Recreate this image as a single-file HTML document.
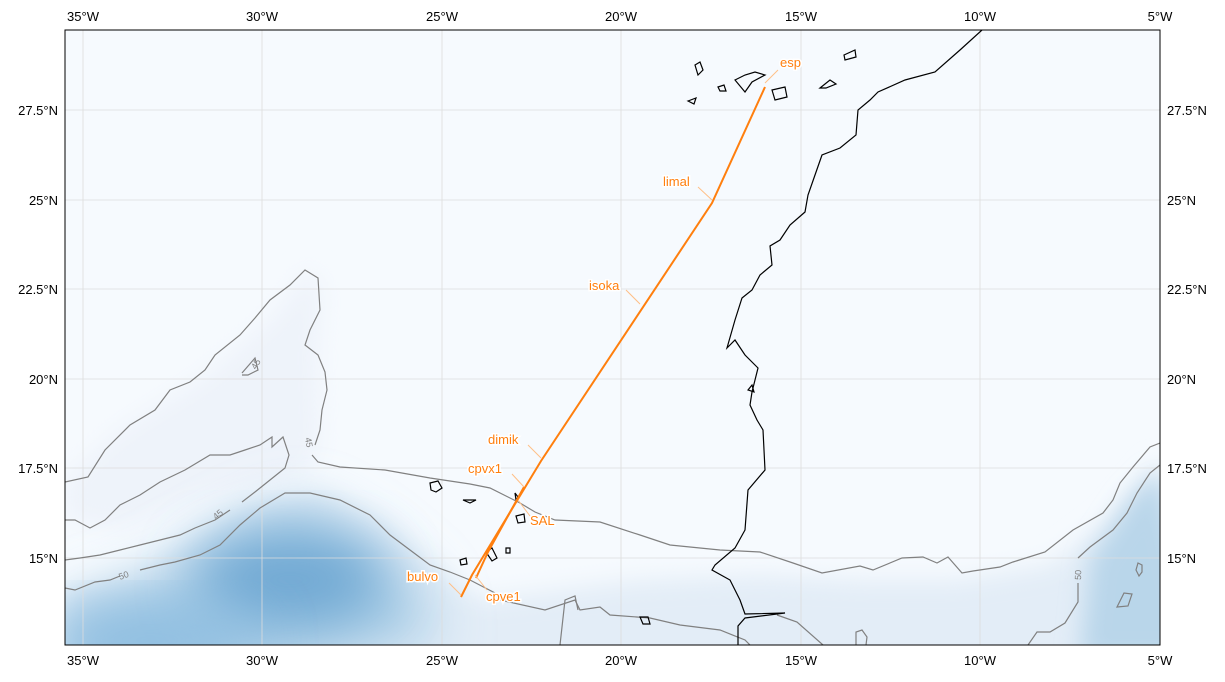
<!DOCTYPE html>
<html><head><style>
body{margin:0;background:#fff;}
svg text{font-family:"Liberation Sans",sans-serif;}
</style></head><body>
<svg width="1225" height="677" xmlns="http://www.w3.org/2000/svg">
<defs>
<clipPath id="c"><rect x="65" y="30" width="1095" height="615"/></clipPath>
<filter id="b" x="-50%" y="-50%" width="200%" height="200%"><feGaussianBlur stdDeviation="28"/></filter>
<filter id="b2" x="-50%" y="-50%" width="200%" height="200%"><feGaussianBlur stdDeviation="12"/></filter>
</defs>
<rect x="65" y="30" width="1095" height="615" fill="#f6fafe"/>
<g clip-path="url(#c)">
<path d="M65,480 L120,430 200,380 270,320 310,268 322,290 318,350 320,445 310,470 290,480 200,500 120,530 65,520Z" fill="#eef3fa" filter="url(#b2)"/>
<path d="M65,590 L150,570 240,510 320,492 380,520 440,570 480,600 560,590 640,580 760,575 860,580 960,580 1050,565 1110,520 1160,460 1200,700 65,700Z" fill="#e3edf7" filter="url(#b2)"/>
<path d="M65,610 L150,580 240,530 300,505 360,540 420,590 440,640 65,700Z" fill="#a9cde6" filter="url(#b)"/>
<ellipse cx="290" cy="580" rx="95" ry="45" fill="#6fa8d3" filter="url(#b)"/>
<ellipse cx="150" cy="640" rx="110" ry="30" fill="#8bbce0" filter="url(#b)"/>
<path d="M1080,660 L1090,560 1130,500 1160,470 1200,660Z" fill="#b9d6ea" filter="url(#b2)"/>
<g stroke="#dcdcdc" stroke-width="0.8">
<line x1="83" y1="30" x2="83" y2="645"/><line x1="262" y1="30" x2="262" y2="645"/><line x1="442" y1="30" x2="442" y2="645"/><line x1="621" y1="30" x2="621" y2="645"/><line x1="801" y1="30" x2="801" y2="645"/><line x1="980" y1="30" x2="980" y2="645"/>
<line x1="65" y1="110" x2="1160" y2="110"/><line x1="65" y1="200" x2="1160" y2="200"/><line x1="65" y1="289" x2="1160" y2="289"/><line x1="65" y1="379" x2="1160" y2="379"/><line x1="65" y1="468" x2="1160" y2="468"/><line x1="65" y1="558" x2="1160" y2="558"/>
</g>
<g fill="none" stroke="#808080" stroke-width="1.2">
<path d="M65,482 L88,477 105,450 130,425 155,410 170,390 190,382 205,370 215,355 240,335 255,318 270,300 290,285 305,270 318,278 320,310 310,330 305,345 318,355 325,372 327,390 322,410 320,430 315,445"/>
<path d="M312,455 L318,462 340,467 385,470 430,478 470,484 490,488 510,498 520,503 535,512 555,520 600,522 640,535 670,545 720,550 760,552 793,563 822,573 860,566 873,570 902,558 923,557 937,563 948,557 962,573 973,571 1000,567 1013,562 1045,552 1073,530 1103,513 1113,500 1120,483 1133,467 1150,447 1160,443"/>
<path d="M1078,558 L1090,547 1113,530 1127,513 1137,493 1150,473 1160,465"/>
<path d="M1078,583 L1078,602 1065,623 1050,632 1037,632 1028,645"/>
<path d="M65,520 L75,520 90,528 105,520 120,505 140,495 160,482 185,470 210,455 230,455 245,450 260,445 272,437 272,447 283,437 289,455 285,468 270,480 255,492 242,502"/>
<path d="M230,510 L215,520 195,528 180,535 160,540 140,545 120,550 100,555 80,558 65,560"/>
<path d="M65,588 L75,590 95,582 110,580 120,576"/>
<path d="M140,570 L160,565 175,562 200,555 220,545 240,525 260,508 285,493 310,493 340,500 370,515 390,535 410,550 430,565 450,572 470,580 495,593 500,600 545,610 575,600 580,610 600,607 610,615 650,618 680,625 720,630 745,640 750,645"/>
<path d="M777,615 L797,622 823,645"/>
<path d="M1117,607 L1124,593 1132,594 1128,606Z"/>
<path d="M1138,563 L1142,565 1142,572 1139,576 1136,570Z"/>
<path d="M242,373 L255,358 258,370 248,375 242,375"/>
<path d="M560,645 L565,600 575,596 578,610"/>
<path d="M856,645 L856,632 862,630 867,637 866,645"/>
</g>
<g font-size="9" fill="#808080">
<text x="256" y="370" transform="rotate(-60 256 370)">45</text>
<text x="305" y="438" transform="rotate(80 305 438)">45</text>
<text x="216" y="520" transform="rotate(-40 216 520)">45</text>
<text x="120" y="580" transform="rotate(-20 120 580)">50</text>
<text x="1081" y="580" transform="rotate(-88 1081 580)">50</text>
</g>
<g fill="none" stroke="#000" stroke-width="1.2">
<path d="M982,30 L960,50 935,72 905,80 878,92 870,100 858,110 856,135 840,148 822,155 815,175 808,195 805,212 790,225 780,240 770,246 772,265 760,275 752,290 742,298 735,320 727,348 735,340 745,355 758,368 752,392 750,405 757,420 763,430 765,470 748,490 745,530 735,548 715,565 712,570 730,580 740,600 745,614 785,613 745,618 738,626 738,645"/>
<path d="M695,65 L700,62 703,70 698,75Z"/>
<path d="M735,80 L745,75 755,72 765,75 752,82 745,92Z"/>
<path d="M772,90 L785,87 787,97 775,100Z"/>
<path d="M718,87 L724,85 726,91 720,91Z"/>
<path d="M688,101 L696,98 694,104Z"/>
<path d="M820,88 L830,80 836,84 826,88Z"/>
<path d="M844,55 L855,50 856,57 845,60Z"/>
<path d="M430,483 L438,481 442,488 436,492 431,490Z"/>
<path d="M463,500 L476,500 470,503Z"/>
<path d="M516,516 L524,514 525,522 518,523Z"/>
<path d="M515,493 L518,497 516,500Z"/>
<path d="M460,560 L466,558 467,564 461,565Z"/>
<path d="M486,552 L492,548 497,558 492,561Z"/>
<path d="M506,548 L510,548 510,553 506,553Z"/>
<path d="M640,617 L648,617 650,624 643,624Z"/>
<path d="M748,390 L752,385 754,392Z"/>
</g>
<g stroke="#ff7f0e" stroke-width="2" fill="none">
<path d="M765,87 L712,203 541,461 472,575 461,597"/>
<path d="M524,487 L488,552 476,578"/>
</g>
<g stroke="#ffbf87" stroke-width="1">
<line x1="765" y1="83" x2="778" y2="70"/>
<line x1="712" y1="200" x2="698" y2="187"/>
<line x1="640" y1="304" x2="626" y2="290"/>
<line x1="541" y1="458" x2="528" y2="445"/>
<line x1="524" y1="487" x2="512" y2="474"/>
<line x1="518" y1="500" x2="530" y2="516"/>
<line x1="461" y1="595" x2="449" y2="583"/>
<line x1="475" y1="575" x2="487" y2="590"/>
</g>
<g font-size="13" fill="#ff7f0e" stroke="#fff" stroke-width="3" paint-order="stroke">
<text x="780" y="67">esp</text>
<text x="663" y="186">limal</text>
<text x="589" y="290">isoka</text>
<text x="488" y="444">dimik</text>
<text x="468" y="473">cpvx1</text>
<text x="530" y="525">SAL</text>
<text x="407" y="581">bulvo</text>
<text x="486" y="601">cpve1</text>
</g>
</g>
<rect x="65" y="30" width="1095" height="615" fill="none" stroke="#000" stroke-width="1"/>
<g font-size="13" fill="#000" text-anchor="middle">
<text x="83" y="21">35°W</text><text x="262" y="21">30°W</text><text x="442" y="21">25°W</text><text x="621" y="21">20°W</text><text x="801" y="21">15°W</text><text x="980" y="21">10°W</text><text x="1160" y="21">5°W</text>
<text x="83" y="665">35°W</text><text x="262" y="665">30°W</text><text x="442" y="665">25°W</text><text x="621" y="665">20°W</text><text x="801" y="665">15°W</text><text x="980" y="665">10°W</text><text x="1160" y="665">5°W</text>
</g>
<g font-size="13" fill="#000" text-anchor="end">
<text x="58" y="115">27.5°N</text><text x="58" y="205">25°N</text><text x="58" y="294">22.5°N</text><text x="58" y="384">20°N</text><text x="58" y="473">17.5°N</text><text x="58" y="563">15°N</text>
</g>
<g font-size="13" fill="#000">
<text x="1167" y="115">27.5°N</text><text x="1167" y="205">25°N</text><text x="1167" y="294">22.5°N</text><text x="1167" y="384">20°N</text><text x="1167" y="473">17.5°N</text><text x="1167" y="563">15°N</text>
</g>
</svg>
</body></html>
